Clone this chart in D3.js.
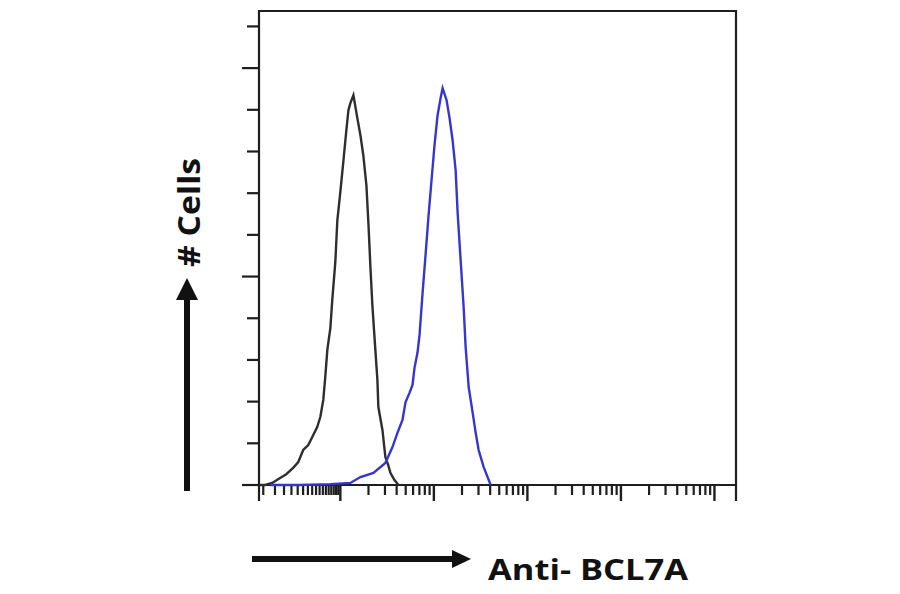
<!DOCTYPE html>
<html>
<head>
<meta charset="utf-8">
<script src="https://cdn.jsdelivr.net/npm/d3@7"></script>
<style>
  body { margin: 0; background: #fff; }
  svg { display: block; }
  text { font-family: "Open Sans", "DejaVu Sans", sans-serif; font-weight: bold; fill: #111; }
</style>
</head>
<body>
<svg id="chart" width="900" height="594"></svg>
<script>
// black = isotype control, blue = Anti-BCL7A (fluorescence, cell count)
const controlX = [1.36, 1.57, 1.87, 2.27, 2.64, 3.13, 3.55, 4.01, 4.54, 5.14, 5.66, 6.11, 6.57, 6.90, 7.26, 7.82, 8.20, 8.84, 9.29, 10, 10.8, 11.6, 12.2, 12.8, 13.8, 15.2, 16.4, 17.6, 19.0, 20.0, 21.0, 22.0, 23.1, 24.9, 25.5, 28.2, 30.3, 32.7, 34.3, 37.9, 41.9];
const controlY = [0, 0, 0.5, 1.7, 2.6, 4.1, 5.5, 8.4, 9.6, 12.0, 13.9, 16.3, 20.4, 25.9, 32.4, 37.6, 44.4, 53.5, 63.5, 70.3, 77.9, 85.1, 89.9, 91.6, 93.5, 88.0, 83.9, 79.1, 71.9, 62.4, 52.0, 43.2, 36.0, 25.2, 18.7, 13.2, 6.7, 4.6, 2.9, 1.2, 0];
const bcl7aX = [1.78, 3.73, 7.82, 12.8, 16.4, 22.6, 30.3, 36.1, 40.8, 46.2, 49.8, 54.9, 59.1, 62.1, 66.8, 70.3, 75.7, 81.5, 87.8, 94.4, 101.6, 109.6, 118.0, 124, 136.8, 147.2, 158.6, 170.9, 179.6, 193.2, 208.1, 218.6, 235.6, 260, 280, 301, 341, 405];
const bcl7aY = [0, 0, 0.2, 0.5, 1.9, 2.9, 5.3, 9.1, 12.5, 15.6, 19.9, 22.1, 24.0, 28.1, 31.7, 36.0, 46.0, 55.2, 64.7, 73.1, 81.5, 88.7, 92.8, 95.2, 92.3, 88.0, 82.7, 75.5, 65.2, 54.0, 42.7, 33.1, 23.5, 17.3, 12.5, 8.4, 4.3, 0];

const xMajor = [10, 100, 1000, 10000, 100000];
const xFirstDecade = [1.5, 2, 2.5, 3, 3.5, 4, 4.5, 5, 5.5, 6, 6.5, 7, 7.5, 8, 8.5, 9, 9.5];
const yTicks = [0, 10, 20, 30, 40, 50, 60, 70, 80, 90, 100, 110];
const yMajor = [0, 50, 100];

const xLabel = "Anti- BCL7A";
const yLabel = "# Cells";

const svg = d3.select("#chart");
const mLeft = 259, mRight = 736, mTop = 11, mBottom = 485;

const x = d3.scaleLog().domain([1.35, 170000]).range([mLeft, mRight]);
const y = d3.scaleLinear().domain([0, 113.7]).range([mBottom, mTop]);

// x ticks: minor 2..9 per decade, plus the compressed first decade
let xMinor = xFirstDecade.slice();
xMajor.forEach(d => {
  for (let k = 2; k <= 9; k++) if (d * k < x.domain()[1]) xMinor.push(d * k);
});

const ink = "#1e1e1e";

const gx = svg.append("g").attr("class", "xticks");
gx.selectAll(".minor").data(xMinor).join("line")
  .attr("class", "minor")
  .attr("x1", d => x(d)).attr("x2", d => x(d))
  .attr("y1", mBottom).attr("y2", mBottom + 10)
  .attr("stroke", ink).attr("stroke-width", 2.2);
gx.selectAll(".major").data(xMajor).join("line")
  .attr("class", "major")
  .attr("x1", d => x(d)).attr("x2", d => x(d))
  .attr("y1", mBottom).attr("y2", mBottom + 16)
  .attr("stroke", ink).attr("stroke-width", 2.4);

const gy = svg.append("g").attr("class", "yticks");
gy.selectAll("line").data(yTicks).join("line")
  .attr("x1", d => mLeft - (yMajor.includes(d) ? 17 : 12)).attr("x2", mLeft)
  .attr("y1", d => y(d)).attr("y2", d => y(d))
  .attr("stroke", ink).attr("stroke-width", 2.2);

// frame
svg.append("path")
  .attr("d", `M${mLeft},${mBottom + 16}V${mTop}H${mRight}V${mBottom + 16}M${mLeft},${mBottom}H${mRight}`)
  .attr("fill", "none").attr("stroke", ink).attr("stroke-width", 2.2);

const line = d3.line().x(d => x(d[0])).y(d => y(d[1]));
svg.append("path")
  .datum(d3.zip(controlX, controlY))
  .attr("d", line).attr("fill", "none")
  .attr("stroke", "#2e2e2e").attr("stroke-width", 2.4);
svg.append("path")
  .datum(d3.zip(bcl7aX, bcl7aY))
  .attr("d", line).attr("fill", "none")
  .attr("stroke", "#3535d0").attr("stroke-width", 2.4);

// axis arrows
svg.append("line")
  .attr("x1", 252).attr("x2", 456).attr("y1", 559).attr("y2", 559)
  .attr("stroke", "#111").attr("stroke-width", 6);
svg.append("path").attr("d", "M452,550L471,559L452,568Z").attr("fill", "#111");

svg.append("line")
  .attr("x1", 187).attr("x2", 187).attr("y1", 491).attr("y2", 295)
  .attr("stroke", "#111").attr("stroke-width", 6);
svg.append("path").attr("d", "M176,300L187,278L198,300Z").attr("fill", "#111");

svg.append("text")
  .attr("x", 488).attr("y", 580)
  .attr("font-size", 28)
  .attr("textLength", 200).attr("lengthAdjust", "spacingAndGlyphs")
  .text(xLabel);

svg.append("text")
  .attr("transform", "translate(200,267) rotate(-90)")
  .attr("font-size", 31)
  .attr("textLength", 109).attr("lengthAdjust", "spacingAndGlyphs")
  .text(yLabel);
</script>
</body>
</html>
